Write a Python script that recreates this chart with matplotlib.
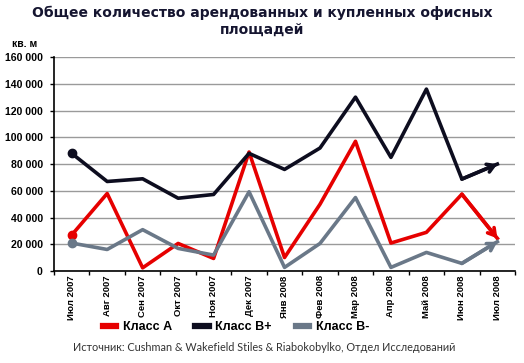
import matplotlib.pyplot as plt
from matplotlib.ticker import FuncFormatter, MultipleLocator

# Data
months = ["Июл 2007", "Авг 2007", "Сен 2007", "Окт 2007", "Ноя 2007", "Дек 2007",
          "Янв 2008", "Фев 2008", "Мар 2008", "Апр 2008", "Май 2008", "Июн 2008", "Июл 2008"]
class_a = [27000, 58000, 2500, 20700, 9500, 89000, 10200, 50000, 97000, 21000, 29000, 57500, 24500]
class_b_plus = [88000, 67000, 69000, 54500, 57300, 88000, 76000, 92000, 130000, 85000, 136000, 68800, 80000]
class_b_minus = [21000, 16200, 31000, 17000, 12000, 59300, 2800, 20700, 55000, 2800, 14000, 5800, 22000]

series = [("Класс А", class_a, "#e60000"),
          ("Класс В+", class_b_plus, "#0d0d1f"),
          ("Класс В-", class_b_minus, "#6a7888")]

fig = plt.figure(figsize=(5.24, 3.63), dpi=100)
ax = fig.add_axes([0.103, 0.253, 0.880, 0.590])

x = list(range(len(months)))
for name, vals, col in series:
    ax.plot(x, vals, color=col, lw=2.6, label=name, marker="o",
            markevery=[0], markersize=6)
    # open arrowhead on the last segment
    ax.annotate("", xy=(x[-1], vals[-1]), xytext=(x[-2], vals[-2]),
                arrowprops=dict(arrowstyle="->,head_length=0.5,head_width=0.3",
                                color=col, lw=2.6, mutation_scale=10,
                                shrinkA=0, shrinkB=0))

ax.set_xlim(-0.5, len(months) - 0.5)
ax.set_ylim(0, 160000)
ax.yaxis.set_major_locator(MultipleLocator(20000))
ax.yaxis.set_major_formatter(FuncFormatter(lambda v, p: f"{int(v):,}".replace(",", " ")))
ax.grid(axis="y", color="#9a9a9a", lw=1)
ax.set_axisbelow(True)

ax.set_xticks(x)
ax.set_xticklabels(months, rotation=90, fontsize=6.8, fontweight="bold",
                   family="Liberation Sans")
ax.set_xticks([i - 0.5 for i in range(len(months) + 1)], minor=True)
ax.tick_params(axis="x", which="major", length=0, pad=3)
ax.tick_params(axis="x", which="minor", length=3, width=1)
ax.tick_params(axis="y", length=3, width=1, pad=5)
for lbl in ax.get_yticklabels():
    lbl.set_fontsize(7.6)
    lbl.set_fontweight("bold")
    lbl.set_family("Liberation Sans")

for s in ["top", "right"]:
    ax.spines[s].set_visible(False)
for s in ["left", "bottom"]:
    ax.spines[s].set_linewidth(1.2)
    ax.spines[s].set_color("black")

fig.text(0.5, 0.985, "Общее количество арендованных и купленных офисных\nплощадей",
         ha="center", va="top", fontsize=10, fontweight="bold", color="#151530",
         family="DejaVu Sans", linespacing=1.25)
fig.text(0.022, 0.878, "кв. м", ha="left", va="center", fontsize=7.5,
         fontweight="bold", family="Liberation Sans")

leg = fig.legend(loc="center", bbox_to_anchor=(0.45, 0.098), ncol=3, frameon=False,
                 prop={"family": "Liberation Sans", "weight": "bold", "size": 9},
                 handlelength=1.1, handletextpad=0.5, columnspacing=1.9)
for h in leg.legend_handles:
    h.set_marker("")
    h.set_linewidth(4.5)

fig.text(0.505, 0.042, "Источник: Cushman & Wakefield Stiles & Riabokobylko, Отдел Исследований",
         ha="center", va="center", fontsize=7.8, color="#333333", family="Lato")

fig.savefig("out.png", dpi=100)
